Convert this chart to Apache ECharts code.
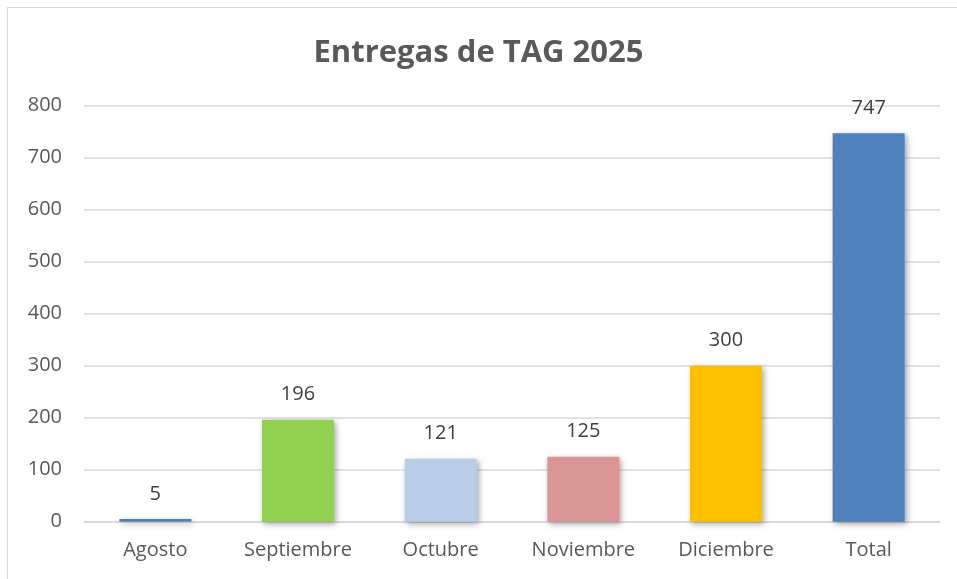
<!DOCTYPE html>
<html>
<head>
<meta charset="utf-8">
<script src="https://cdn.jsdelivr.net/npm/echarts@6/dist/echarts.min.js"></script>
<style>
html,body{margin:0;padding:0;background:#fff;}
#frame{position:absolute;left:7px;top:7px;width:960px;height:590px;border:1px solid #d9d9d9;box-sizing:border-box;}
#chart{position:absolute;left:0;top:0;width:957px;height:579px;}
</style>
</head>
<body>
<div id="frame"></div>
<div id="chart"></div>
<script>
// datos del gráfico
var categorias = ['Agosto', 'Septiembre', 'Octubre', 'Noviembre', 'Diciembre', 'Total'];
var entregas = [5, 196, 121, 125, 300, 747];
var colores = ['#4F81BD', '#92D050', '#B9CDE9', '#D99694', '#FFC000', '#4F81BD'];
var ticksY = [0, 100, 200, 300, 400, 500, 600, 700, 800];

var fuente = '"Open Sans", "DejaVu Sans", sans-serif';

var datos = [];
for (var i = 0; i < entregas.length; i++) {
    datos.push({
        value: entregas[i],
        itemStyle: { color: colores[i] }
    });
}

var chart = echarts.init(document.getElementById('chart'), null, { renderer: 'canvas' });
chart.setOption({
    backgroundColor: 'transparent',
    animation: false,
    title: {
        text: 'Entregas de TAG 2025',
        left: 'center',
        top: 33,
        textStyle: { fontFamily: fuente, fontSize: 31, fontWeight: 'bold', color: '#595959' }
    },
    grid: { left: 84, right: 17, top: 105.7, bottom: 57.3, containLabel: false },
    xAxis: {
        type: 'category',
        data: categorias,
        axisLine: { show: true, lineStyle: { color: '#d9d9d9', width: 1.5 } },
        axisTick: { show: false },
        axisLabel: { fontFamily: fuente, fontSize: 20, color: '#595959', margin: 19 }
    },
    yAxis: {
        type: 'value',
        min: ticksY[0],
        max: ticksY[ticksY.length - 1],
        interval: 100,
        axisLine: { show: false },
        axisTick: { show: false },
        splitLine: { lineStyle: { color: '#d9d9d9', width: 1.5 } },
        axisLabel: { fontFamily: fuente, fontSize: 20, color: '#595959', margin: 22 }
    },
    series: [{
        type: 'bar',
        data: datos,
        barWidth: '50.5%',
        itemStyle: {
            shadowColor: 'rgba(0,0,0,0.35)',
            shadowBlur: 6,
            shadowOffsetX: 2,
            shadowOffsetY: 2
        },
        label: {
            show: true,
            position: 'top',
            distance: 15,
            fontFamily: fuente,
            fontSize: 20,
            color: '#404040'
        }
    }]
});
</script>
</body>
</html>
